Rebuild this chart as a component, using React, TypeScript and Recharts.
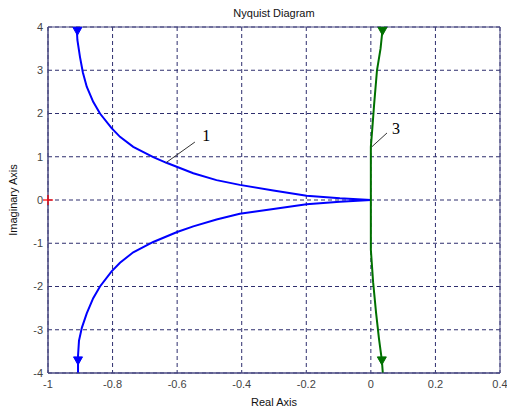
import React from "react"
import {
  ComposedChart,
  Line,
  Scatter,
  XAxis,
  YAxis,
  CartesianGrid,
  ReferenceLine,
  ReferenceDot,
  ReferenceArea,
} from "recharts"

// curve 1: upper branch (top -> origin) then lower branch (origin -> bottom)
const curve1 = [
  { x: -0.911, y: 4 },
  { x: -0.909, y: 3.7 },
  { x: -0.901, y: 3.31 },
  { x: -0.892, y: 2.95 },
  { x: -0.88, y: 2.62 },
  { x: -0.86, y: 2.27 },
  { x: -0.839, y: 2.0 },
  { x: -0.803, y: 1.66 },
  { x: -0.777, y: 1.46 },
  { x: -0.736, y: 1.23 },
  { x: -0.674, y: 0.99 },
  { x: -0.633, y: 0.86 },
  { x: -0.55, y: 0.62 },
  { x: -0.478, y: 0.46 },
  { x: -0.406, y: 0.35 },
  { x: -0.302, y: 0.22 },
  { x: -0.199, y: 0.1 },
  { x: -0.096, y: 0.04 },
  { x: 0, y: 0 },
  { x: -0.096, y: -0.04 },
  { x: -0.199, y: -0.1 },
  { x: -0.302, y: -0.21 },
  { x: -0.406, y: -0.32 },
  { x: -0.478, y: -0.45 },
  { x: -0.55, y: -0.61 },
  { x: -0.6, y: -0.74 },
  { x: -0.674, y: -0.97 },
  { x: -0.736, y: -1.21 },
  { x: -0.777, y: -1.45 },
  { x: -0.803, y: -1.65 },
  { x: -0.839, y: -2.0 },
  { x: -0.86, y: -2.27 },
  { x: -0.88, y: -2.62 },
  { x: -0.895, y: -2.95 },
  { x: -0.904, y: -3.25 },
  { x: -0.907, y: -3.6 },
  { x: -0.907, y: -4 },
]

// curve 3
const curve3 = [
  { x: 0.037, y: 4 },
  { x: 0.03, y: 3.5 },
  { x: 0.019, y: 3.0 },
  { x: 0.01, y: 2.2 },
  { x: 0.005, y: 1.7 },
  { x: 0, y: 1.23 },
  { x: 0, y: 0 },
  { x: 0, y: -1.15 },
  { x: 0.007, y: -1.9 },
  { x: 0.016, y: -2.6 },
  { x: 0.025, y: -3.2 },
  { x: 0.034, y: -3.7 },
  { x: 0.037, y: -4 },
]

const arrows1 = [
  { x: -0.909, y: 3.9 },
  { x: -0.907, y: -3.72 },
]
const arrows3 = [
  { x: 0.036, y: 3.9 },
  { x: 0.034, y: -3.72 },
]
const critical = [{ x: -1, y: 0 }]

const xTicks = [-1, -0.8, -0.6, -0.4, -0.2, 0, 0.2, 0.4]
const yTicks = [-4, -3, -2, -1, 0, 1, 2, 3, 4]

const FRAME = "#4a4a82"
const GRID = "#2e2e6e"
const TICK = { fill: "#444", fontSize: 11, fontFamily: "Liberation Sans, Arial, sans-serif" }

const downArrow = (color: string) => (props: any) => {
  const { cx, cy } = props
  return (
    <polygon
      points={`${cx - 4.5},${cy - 4} ${cx + 4.5},${cy - 4} ${cx},${cy + 4}`}
      fill={color}
      stroke={color}
    />
  )
}

const plus = (props: any) => {
  const { cx, cy } = props
  return (
    <g stroke="#ff0000" strokeWidth={1.2}>
      <line x1={cx - 5} y1={cy} x2={cx + 5} y2={cy} />
      <line x1={cx} y1={cy - 5} x2={cx} y2={cy + 5} />
    </g>
  )
}

const note = (txt: string) => (props: any) => (
  <text
    x={props.cx}
    y={props.cy}
    textAnchor="middle"
    dominantBaseline="central"
    fontFamily="Liberation Serif, Times New Roman, serif"
    fontSize={16}
    fill="#000"
  >
    {txt}
  </text>
)

const fmt = (v: number) => String(Math.round(v * 10) / 10)

export default function App() {
  return (
    <div style={{ position: "absolute", left: 0, top: 0, width: 507, height: 412, background: "#fff" }}>
      <ComposedChart width={507} height={412} margin={{ top: 27, right: 7, bottom: 0, left: 0 }}>
        <CartesianGrid stroke={GRID} strokeDasharray="4 3" strokeWidth={1} />
        <XAxis
          dataKey="x"
          type="number"
          domain={[-1, 0.4]}
          ticks={xTicks}
          height={39}
          tickSize={0}
          tickMargin={7}
          tickFormatter={fmt}
          tick={TICK}
          stroke={FRAME}
        />
        <YAxis
          dataKey="y"
          type="number"
          domain={[-4, 4]}
          ticks={yTicks}
          width={48}
          tickSize={0}
          tickMargin={5}
          tick={TICK}
          stroke={FRAME}
        />
        <ReferenceArea x1={-1} x2={0.4} y1={-4} y2={4} fill="none" stroke={FRAME} strokeWidth={1} />
        <Line data={curve1} dataKey="y" type="linear" stroke="#0000ff" strokeWidth={2} dot={false} isAnimationActive={false} />
        <Line data={curve3} dataKey="y" type="linear" stroke="#007000" strokeWidth={2} dot={false} isAnimationActive={false} />
        <Scatter data={arrows1} dataKey="y" shape={downArrow("#0000ff")} isAnimationActive={false} />
        <Scatter data={arrows3} dataKey="y" shape={downArrow("#007000")} isAnimationActive={false} />
        <Scatter data={critical} dataKey="y" shape={plus} isAnimationActive={false} />
        <ReferenceLine segment={[{ x: -0.635, y: 0.86 }, { x: -0.545, y: 1.34 }]} stroke="#333" strokeWidth={1} />
        <ReferenceLine segment={[{ x: 0.003, y: 1.23 }, { x: 0.05, y: 1.55 }]} stroke="#333" strokeWidth={1} />
        <ReferenceDot x={-0.51} y={1.5} r={0} shape={note("1")} />
        <ReferenceDot x={0.078} y={1.65} r={0} shape={note("3")} />
      </ComposedChart>
      <svg
        width={507}
        height={412}
        style={{ position: "absolute", left: 0, top: 0, pointerEvents: "none" }}
        fontFamily="Liberation Sans, Arial, sans-serif"
        fontSize={11}
      >
        <text x={274} y={17} textAnchor="middle" fill="#111">Nyquist Diagram</text>
        <text x={274} y={406} textAnchor="middle" fill="#111">Real Axis</text>
        <text x={17} y={200} textAnchor="middle" fill="#111" transform="rotate(-90 17 200)">Imaginary Axis</text>
      </svg>
    </div>
  )
}
